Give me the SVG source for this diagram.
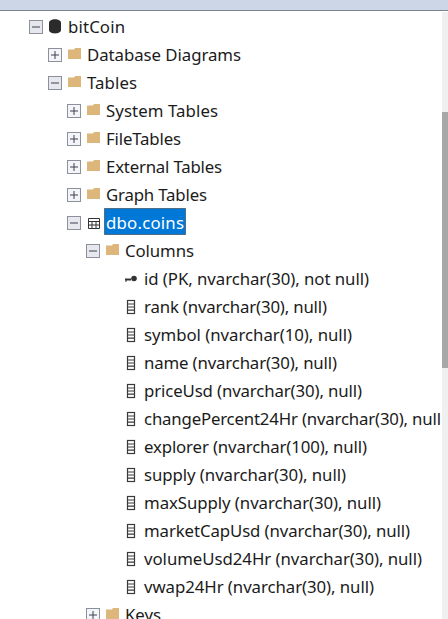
<svg xmlns="http://www.w3.org/2000/svg" width="448" height="619" viewBox="0 0 448 619">
<style>
text{font-family:"Noto Sans","Open Sans","Liberation Sans",sans-serif;font-size:16.8px;fill:#1b1b1b}
.box{fill:#f4f5f8;stroke:#8b909c;stroke-width:1}
.sign{stroke:#3c4250;stroke-width:1;fill:none}
.folder{fill:#dcb67a}
.col{fill:none;stroke:#3a3a3a;stroke-width:1.2}
</style>
<defs>
<g id="plus"><rect class="box" x="-6.5" y="-6.5" width="13" height="13"/><path class="sign" d="M-4 0H4M0-4V4"/></g>
<g id="minus"><rect x="-6.5" y="-6.5" width="13" height="13" fill="#e6e8ee" stroke="#8b909c"/><path class="sign" d="M-4 0H4"/></g>
<path id="fold" class="folder" d="M-7-4.500H-1L0-6H6V5H-7Z"/>
<g id="colicon"><rect class="col" x="-3.500" y="-6.500" width="7" height="13"/><path class="col" d="M-3.500-3H3.500M-3.500 0H3.500M-3.500 3.200H3.500"/></g>
</defs>
<rect width="448" height="619" fill="#ffffff"/>
<rect id="header" width="448" height="10" fill="#cdd6e6"/>
<rect y="10" width="448" height="1" fill="#7d8591"/>
<g id="scrollbar"><rect x="442" y="12" width="6" height="607" fill="#f0f0f0"/><rect x="442" y="112" width="6" height="256" fill="#a8a8a8"/></g>
<g id="selection"><rect x="104.500" y="208.500" width="81" height="26" fill="#0078d7" stroke="#222" stroke-width="1" stroke-dasharray="1 1"/></g>
<g id="connectors"></g>
<g id="bitCoin"><use href="#minus" x="36" y="27"/><path d="M49 23C49 18 61 18 61 23V30C61 34.500 49 34.500 49 30Z" fill="#2b2b2b"/><text x="68" y="33" textLength="57">bitCoin</text></g>
<g id="databaseDiagrams"><use href="#plus" x="55" y="55"/><use href="#fold" x="75" y="54"/><text x="87" y="61" textLength="154">Database Diagrams</text></g>
<g id="tables"><use href="#minus" x="55" y="83"/><use href="#fold" x="75" y="82"/><text x="87" y="89" textLength="50">Tables</text></g>
<g id="systemTables"><use href="#plus" x="74" y="111"/><use href="#fold" x="94" y="110"/><text x="106" y="117" textLength="112">System Tables</text></g>
<g id="fileTables"><use href="#plus" x="74" y="139"/><use href="#fold" x="94" y="138"/><text x="106" y="145" textLength="75">FileTables</text></g>
<g id="externalTables"><use href="#plus" x="74" y="167"/><use href="#fold" x="94" y="166"/><text x="106" y="173" textLength="116">External Tables</text></g>
<g id="graphTables"><use href="#plus" x="74" y="195"/><use href="#fold" x="94" y="194"/><text x="106" y="201" textLength="101">Graph Tables</text></g>
<g id="dboCoins"><use href="#minus" x="74" y="223"/><path d="M88.500 218.500H99.500V228.500H88.500ZM88.500 221.500H99.500M88.500 225H99.500M92 221.500V228.500M96 221.500V228.500" fill="none" stroke="#333" stroke-width="1"/><text x="106" y="229" textLength="78" style="fill:#fff">dbo.coins</text></g>
<g id="columns"><use href="#minus" x="93" y="251"/><use href="#fold" x="113" y="250"/><text x="125" y="257" textLength="69">Columns</text></g>
<g id="col-id"><path d="M125 279.500H131" stroke="#333" stroke-width="2"/><path d="M126 282V280" stroke="#333"/><circle cx="134" cy="278.500" r="2.800" fill="#333"/><text x="144" y="285" textLength="225">id (PK, nvarchar(30), not null)</text></g>
<g id="col-rank"><use href="#colicon" x="131" y="307"/><text x="144" y="313" textLength="183">rank (nvarchar(30), null)</text></g>
<g id="col-symbol"><use href="#colicon" x="131" y="335"/><text x="144" y="341" textLength="208">symbol (nvarchar(10), null)</text></g>
<g id="col-name"><use href="#colicon" x="131" y="363"/><text x="144" y="369" textLength="193">name (nvarchar(30), null)</text></g>
<g id="col-priceUsd"><use href="#colicon" x="131" y="391"/><text x="144" y="397" textLength="218">priceUsd (nvarchar(30), null)</text></g>
<g id="col-change"><use href="#colicon" x="131" y="419"/><text x="144" y="425" textLength="297">changePercent24Hr (nvarchar(30), null</text></g>
<g id="col-explorer"><use href="#colicon" x="131" y="447"/><text x="144" y="453" textLength="223">explorer (nvarchar(100), null)</text></g>
<g id="col-supply"><use href="#colicon" x="131" y="475"/><text x="144" y="481" textLength="202">supply (nvarchar(30), null)</text></g>
<g id="col-maxSupply"><use href="#colicon" x="131" y="503"/><text x="144" y="509" textLength="237">maxSupply (nvarchar(30), null)</text></g>
<g id="col-marketCap"><use href="#colicon" x="131" y="531"/><text x="144" y="537" textLength="266">marketCapUsd (nvarchar(30), null)</text></g>
<g id="col-volume"><use href="#colicon" x="131" y="559"/><text x="144" y="565" textLength="278">volumeUsd24Hr (nvarchar(30), null)</text></g>
<g id="col-vwap"><use href="#colicon" x="131" y="587"/><text x="144" y="593" textLength="230">vwap24Hr (nvarchar(30), null)</text></g>
<g id="keys"><use href="#plus" x="93" y="615"/><use href="#fold" x="113" y="614"/><text x="125" y="621" textLength="36">Keys</text></g>
</svg>
